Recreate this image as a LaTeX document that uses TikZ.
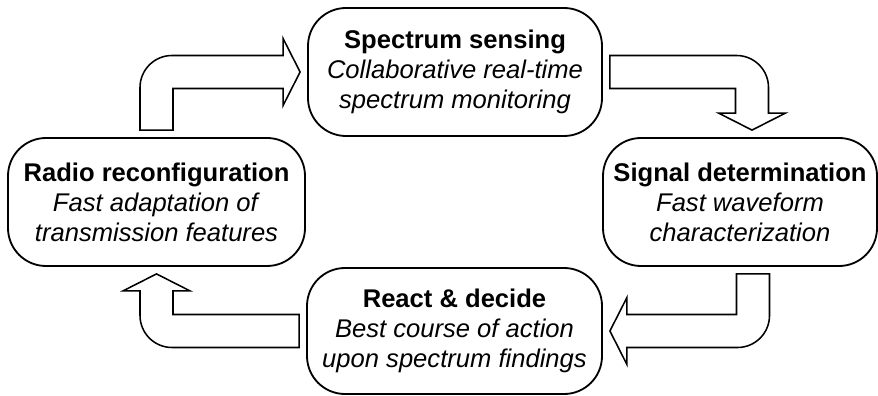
\documentclass[tikz,border=0pt]{standalone}
\usepackage{fontspec}
\setmainfont{Liberation Sans}
\usetikzlibrary{calc}

% block arrow sizes
\newcommand{\shaftw}{0.4125cm}
\newcommand{\headw}{0.8375cm}
\newcommand{\headl}{0.425cm}
\newcommand{\bendr}{0.8cm}
\newcommand{\tipgap}{0.175cm}

\begin{document}
\begin{tikzpicture}

      \tikzset{stage/.style={draw, rounded corners=0.95cm, line width=1.3pt, align=center, minimum height=3.2cm, inner sep=0pt, font=\fontsize{18.2}{21.3}\selectfont},
               blockarrow/.style={draw, fill=white, line width=1.1pt, line join=miter}}
      \useasboundingbox (0,0) rectangle (21.95,9.875);
%% Stages
      	\node[stage, minimum width=7.35cm] (sensing) at (11.375,8.075) {\textbf{Spectrum sensing}\\\textit{Collaborative real-time}\\\textit{spectrum monitoring}};
      	\node[stage, minimum width=6.85cm] (signal) at (18.5,4.825) {\textbf{Signal determination}\\\textit{Fast waveform}\\\textit{characterization}};
      	\node[stage, minimum width=7.375cm, minimum height=3.15cm] (decide) at (11.3625,1.6) {\textbf{React \& decide}\\\textit{Best course of action}\\\textit{upon spectrum findings}};
      	\node[stage, minimum width=7.425cm] (radio) at (3.9125,4.825) {\textbf{Radio reconfiguration}\\\textit{Fast adaptation of}\\\textit{transmission features}};
%Arrows
		\draw[blockarrow] let \p1=(radio.north), \p2=(sensing.west) in
			(\x1-\shaftw,\y1+\tipgap) -- (\x1-\shaftw,\y2+\shaftw-\bendr) arc[start angle=180, end angle=90, radius=\bendr]
			-- (\x2-\tipgap-\headl,\y2+\shaftw) -- (\x2-\tipgap-\headl,\y2+\headw) -- (\x2-\tipgap,\y2)
			-- (\x2-\tipgap-\headl,\y2-\headw) -- (\x2-\tipgap-\headl,\y2-\shaftw) -- (\x1+\shaftw,\y2-\shaftw)
			-- (\x1+\shaftw,\y1+\tipgap) -- cycle;
		\draw[blockarrow] let \p1=(sensing.east), \p2=([xshift=0.3cm]signal.north) in
			(\x1+\tipgap,\y1+\shaftw) -- (\x2+\shaftw-\bendr,\y1+\shaftw) arc[start angle=90, end angle=0, radius=\bendr]
			-- (\x2+\shaftw,\y2+\tipgap+\headl) -- (\x2+\headw,\y2+\tipgap+\headl) -- (\x2,\y2+\tipgap)
			-- (\x2-\headw,\y2+\tipgap+\headl) -- (\x2-\shaftw,\y2+\tipgap+\headl) -- (\x2-\shaftw,\y1-\shaftw)
			-- (\x1+\tipgap,\y1-\shaftw) -- cycle;
		\draw[blockarrow] let \p1=([xshift=0.325cm]signal.south), \p2=(decide.east) in
			(\x1+\shaftw,\y1-\tipgap) -- (\x1+\shaftw,\y2-\shaftw+\bendr) arc[start angle=0, end angle=-90, radius=\bendr]
			-- (\x2+\tipgap+\headl,\y2-\shaftw) -- (\x2+\tipgap+\headl,\y2-\headw) -- (\x2+\tipgap,\y2)
			-- (\x2+\tipgap+\headl,\y2+\headw) -- (\x2+\tipgap+\headl,\y2+\shaftw) -- (\x1-\shaftw,\y2+\shaftw)
			-- (\x1-\shaftw,\y1-\tipgap) -- cycle;
		\draw[blockarrow] let \p1=(decide.west), \p2=(radio.south) in
			(\x1-\tipgap,\y1-\shaftw) -- (\x2-\shaftw+\bendr,\y1-\shaftw) arc[start angle=-90, end angle=-180, radius=\bendr]
			-- (\x2-\shaftw,\y2-\tipgap-\headl) -- (\x2-\headw,\y2-\tipgap-\headl) -- (\x2,\y2-\tipgap)
			-- (\x2+\headw,\y2-\tipgap-\headl) -- (\x2+\shaftw,\y2-\tipgap-\headl) -- (\x2+\shaftw,\y1+\shaftw)
			-- (\x1-\tipgap,\y1+\shaftw) -- cycle;

	\end{tikzpicture}
\end{document}
